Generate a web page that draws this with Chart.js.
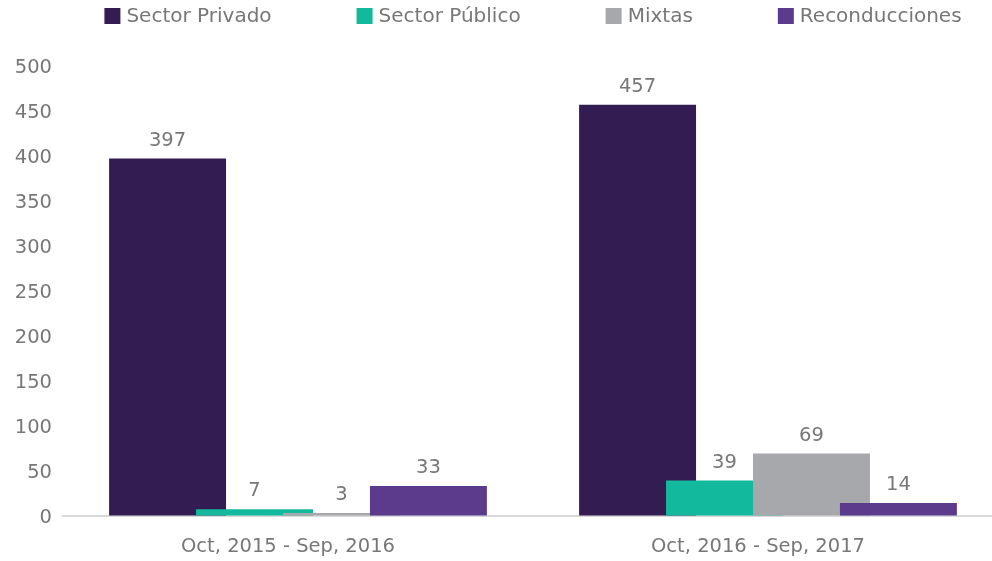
<!DOCTYPE html>
<html>
<head>
<meta charset="utf-8">
<script src="https://cdn.jsdelivr.net/npm/chart.js@4.4.1/dist/chart.umd.min.js"></script>
<style>
  html, body { margin: 0; padding: 0; background: #fff; overflow: hidden; }
  #wrap { width: 992px; height: 561px; overflow: hidden; }
</style>
</head>
<body>
<div id="wrap"><canvas id="graph" width="1003" height="561"></canvas></div>
<script>
const periods = ['Oct, 2015 - Sep, 2016', 'Oct, 2016 - Sep, 2017'];
const seriesNames = ['Sector Privado', 'Sector Público', 'Mixtas', 'Reconducciones'];
const privado = [397, 457];
const publico = [7, 39];
const mixtas = [3, 69];
const reconducciones = [33, 14];
const yMax = 500;
const yStep = 50;

const colors = ['#321c52', '#13b99c', '#a7a8ab', '#5d3b8c'];
const textColor = '#777777';
const fontFamily = "'DejaVu Sans', sans-serif";
const fontSize = 19.5;
const legendFontSize = 20;

Chart.defaults.font.family = fontFamily;
Chart.defaults.font.size = fontSize;
Chart.defaults.color = textColor;

// bars overlap, so draw them left to right (later series on top)
const forwardDraw = {
    id: 'forwardDraw',
    beforeDatasetsDraw(chart)
    {
        const metas = chart.getSortedVisibleDatasetMetas().slice().sort((a, b) => a.index - b.index);
        metas.forEach(meta => meta.controller.draw());
        return false;
    }
};

// value above every bar
const valueLabels = {
    id: 'valueLabels',
    afterDraw(chart)
    {
        const ctx = chart.ctx;
        ctx.save();
        ctx.font = `${fontSize}px ${fontFamily}`;
        ctx.fillStyle = textColor;
        ctx.textAlign = 'center';
        ctx.textBaseline = 'middle';
        chart.data.datasets.forEach((ds, i) => {
            chart.getDatasetMeta(i).data.forEach((bar, j) => {
                ctx.fillText(ds.data[j], bar.x, bar.y - 18);
            });
        });
        ctx.restore();
    }
};

// legend row at the top, centered over the plot area
const topLegend = {
    id: 'topLegend',
    afterDraw(chart)
    {
        const ctx = chart.ctx;
        const box = 16;
        const gap = 6;
        const spacing = 85;
        ctx.save();
        ctx.font = `${legendFontSize}px ${fontFamily}`;
        const widths = chart.data.datasets.map(ds => box + gap + ctx.measureText(ds.label).width);
        const total = widths.reduce((s, w) => s + w, 0) + spacing * (widths.length - 1);
        let x = (chart.chartArea.left + chart.chartArea.right) / 2 - total / 2;
        const y = 16;
        ctx.textBaseline = 'middle';
        ctx.textAlign = 'left';
        chart.data.datasets.forEach((ds, i) => {
            ctx.fillStyle = ds.backgroundColor;
            ctx.fillRect(x, y - box / 2, box, box);
            ctx.fillStyle = textColor;
            ctx.fillText(ds.label, x + box + gap, y + 1);
            x += widths[i] + spacing;
        });
        ctx.restore();
    }
};

const values = [privado, publico, mixtas, reconducciones];

new Chart(document.getElementById('graph'), {
    type: 'bar',
    data: {
        labels: periods,
        datasets: seriesNames.map((name, i) => ({
            label: name,
            data: values[i],
            backgroundColor: colors[i],
            borderWidth: 0,
            categoryPercentage: 0.74,
            barPercentage: 1.345
        }))
    },
    options: {
        responsive: false,
        animation: false,
        layout: {
            padding: { top: 66, right: 0, bottom: -18, left: 0 }
        },
        plugins: {
            legend: { display: false },
            tooltip: { enabled: false }
        },
        scales: {
            x: {
                grid: { display: false, drawTicks: false },
                border: { color: '#d9d9d9', width: 2 },
                ticks: { padding: 20, labelOffset: -10, font: { size: fontSize } }
            },
            y: {
                min: 0,
                max: yMax,
                grid: { display: false, drawTicks: false },
                border: { display: false },
                ticks: { stepSize: yStep, padding: 11, labelOffset: 2, font: { size: fontSize } },
                afterFit(scale) { scale.width = 63; }
            }
        }
    },
    plugins: [forwardDraw, valueLabels, topLegend]
});
</script>
</body>
</html>
